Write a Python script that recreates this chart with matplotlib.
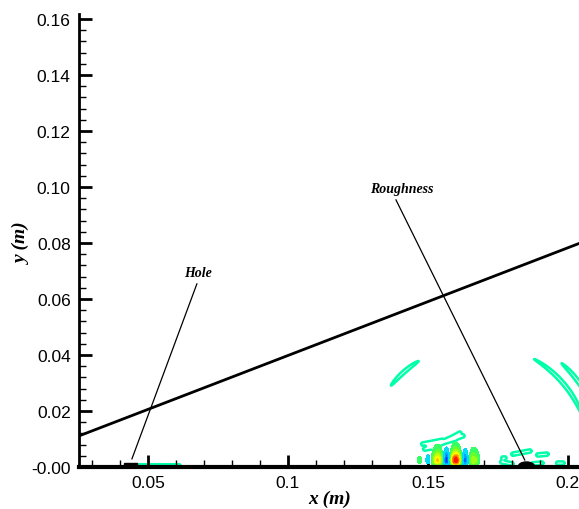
import numpy as np
import matplotlib
matplotlib.use("Agg")
import matplotlib.pyplot as plt
from matplotlib.colors import LinearSegmentedColormap, TwoSlopeNorm
from matplotlib.patches import Rectangle, Ellipse

# axis ticks
xticks = [0.05, 0.1, 0.15, 0.2]
xtick_labels = ["0.05", "0.1", "0.15", "0.2"]
yticks = [0.0, 0.02, 0.04, 0.06, 0.08, 0.10, 0.12, 0.14, 0.16]
ytick_labels = ["-0.00", "0.02", "0.04", "0.06", "0.08", "0.10", "0.12", "0.14", "0.16"]

# inclined boundary line (m)
edge_x = [0.0254, 0.2039]
edge_y = [0.0111, 0.0798]

# wall features (m)
hole_x, hole_w, hole_h = 0.0414, 0.0047, 0.0014
rough_x, rough_a, rough_h = 0.1852, 0.0030, 0.0018

# callouts: label, text position, leader start, leader end
callout_text = ["Hole", "Roughness"]
callout_xy = [(0.0679, 0.0696), (0.1407, 0.0996)]
leader_from = [(0.0675, 0.0654), (0.1386, 0.0954)]
leader_to = [(0.0443, 0.0029), (0.1846, 0.0025)]

# near-wall wave packet downstream of the hole
pk_amp = 0.95
pk_env_x, pk_env_w = 0.1588, 0.0075
pk_phase_x, pk_wavelen = 0.1600, 0.0068
pk_bias = 0.45
pk_ypeak = 0.0024

# radiated wave fronts: centre, radius, angle from vertical (deg), half-span (deg)
ring_cx, ring_cy = 0.1679, 0.0039
ring_r = [0.0400, 0.0400, 0.0446]
ring_ang = [-41.5, 50.0, 53.0]
ring_span = [9.5, 20.0, 11.0]

# thin low-level streaks near the wall: x0, y0, x1, y1 (m)
streak_x0 = [0.1482, 0.1518, 0.1543, 0.1500, 0.1571, 0.1489, 0.1804, 0.1893, 0.1764, 0.1875, 0.1964, 0.1768, 0.0468]
streak_y0 = [0.0082, 0.0068, 0.0086, 0.0075, 0.0096, 0.0064, 0.0046, 0.0043, 0.0018, 0.0011, 0.0014, 0.0032, 0.0004]
streak_x1 = [0.1550, 0.1614, 0.1625, 0.1596, 0.1607, 0.1525, 0.1864, 0.1925, 0.1800, 0.1907, 0.1982, 0.1775, 0.0611]
streak_y1 = [0.0095, 0.0121, 0.0111, 0.0100, 0.0107, 0.0071, 0.0057, 0.0046, 0.0011, 0.0014, 0.0014, 0.0032, 0.0004]

plt.rcParams["font.family"] = ["Liberation Sans", "DejaVu Sans"]

fig = plt.figure(figsize=(5.79, 5.10), dpi=100)
ax = fig.add_axes([79 / 579, 42 / 510, 500 / 579, 453 / 510])
ax.set_xlim(0.0254, 0.0254 + 500 / 2800)
ax.set_ylim(0.0, 453 / 2800)

# field grid
gx = np.arange(0.025, 0.205, 0.0001)
gy = np.arange(0.0, 0.05, 0.0001)
X, Y = np.meshgrid(gx, gy)

# flood of the wave packet
env = np.exp(-((X - pk_env_x) / pk_env_w) ** 2)
carrier = np.cos(2 * np.pi * (X - pk_phase_x) / pk_wavelen) + pk_bias
u = Y / pk_ypeak
prof = u ** 2 * np.exp(2 * (1 - u))
F = pk_amp * env * carrier * prof

cmap = LinearSegmentedColormap.from_list(
    "flood",
    [(0.0, "#0000ff"), (0.2, "#0060ff"), (0.38, "#00d8ff"), (0.5, "#00ffa0"),
     (0.62, "#70ff20"), (0.76, "#ffff00"), (0.88, "#ff8000"), (1.0, "#ff0000")])
norm = TwoSlopeNorm(vcenter=0.0, vmin=-0.6, vmax=1.35)
neg_levels = np.linspace(-0.6, -0.08, 6)
pos_levels = np.linspace(0.08, 1.35, 10)
ax.contourf(X, Y, F, levels=neg_levels, cmap=cmap, norm=norm, extend="min", zorder=2)
ax.contourf(X, Y, F, levels=pos_levels, cmap=cmap, norm=norm, extend="max", zorder=2)

# low-level contour lines: wave fronts and streaks
R = np.hypot(X - ring_cx, Y - ring_cy)
TH = np.degrees(np.arctan2(X - ring_cx, Y - ring_cy))
G = np.zeros_like(X)
for r0, a0, s0 in zip(ring_r, ring_ang, ring_span):
    G += np.exp(-(((R - r0) / 0.0006) ** 2 + ((TH - a0) / s0) ** 2))
for x0, y0, x1, y1 in zip(streak_x0, streak_y0, streak_x1, streak_y1):
    dx, dy = x1 - x0, y1 - y0
    seg = max(dx * dx + dy * dy, 1e-12)
    t = np.clip(((X - x0) * dx + (Y - y0) * dy) / seg, 0, 1)
    d = np.hypot(X - (x0 + t * dx), Y - (y0 + t * dy))
    G += np.exp(-(d / 0.0006) ** 2)
ax.contour(X, Y, G, levels=[np.exp(-1)], colors="#00ffa8", linewidths=1.8, zorder=1)

# inclined boundary
ax.plot(edge_x, edge_y, color="black", lw=2, zorder=3)

# wall geometry
ax.add_patch(Rectangle((hole_x, 0), hole_w, hole_h, color="black", zorder=4))
ax.add_patch(Ellipse((rough_x, 0), 2 * rough_a, 2 * rough_h, color="black", zorder=4))

# callouts
for label, (tx, ty), (ax0, ay0), (ax1, ay1) in zip(callout_text, callout_xy, leader_from, leader_to):
    ax.plot([ax0, ax1], [ay0, ay1], color="black", lw=0.9, zorder=3)
    ax.text(tx, ty, label, ha="center", va="center", fontsize=10,
            fontweight="bold", fontstyle="italic", family="Liberation Serif")

# axes styling
for side in ("top", "right"):
    ax.spines[side].set_visible(False)
ax.spines["left"].set_linewidth(2)
ax.spines["bottom"].set_linewidth(3)
ax.spines["bottom"].set_zorder(5)

ax.set_xticks(xticks)
ax.set_xticklabels(xtick_labels)
ax.set_yticks(yticks)
ax.set_yticklabels(ytick_labels)
ax.set_xticks(np.arange(0.03, 0.205, 0.01), minor=True)
ax.set_yticks(np.arange(0.0, 0.161, 0.004), minor=True)
ax.tick_params(which="major", direction="in", length=9, width=2, labelsize=12.5, pad=6)
ax.tick_params(which="minor", direction="in", length=5, width=1)

fig.text(330 / 579, 1 - 499 / 510, "x (m)", ha="center", va="center", fontsize=14,
         fontweight="bold", fontstyle="italic", family="Liberation Serif")
fig.text(22 / 579, 1 - 243 / 510, "y (m)", ha="center", va="center", fontsize=14,
         rotation=90, fontweight="bold", fontstyle="italic", family="Liberation Serif")

fig.savefig("out.png", dpi=100)
